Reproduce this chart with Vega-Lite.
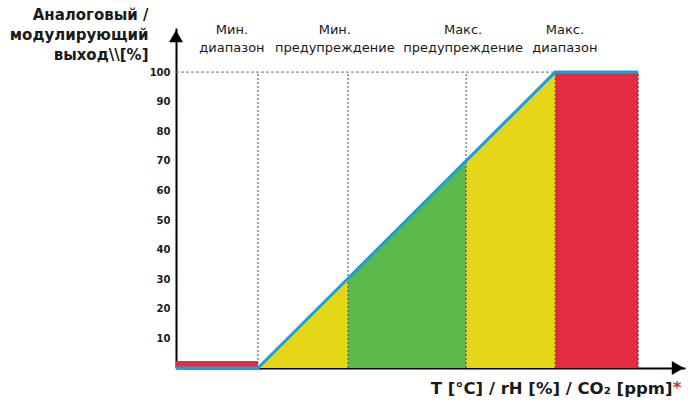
{
  "$schema": "https://vega.github.io/schema/vega-lite/v6.json",
  "width": 509,
  "height": 340,
  "autosize": {"type": "none"},
  "padding": {"left": 176, "top": 28, "right": 3, "bottom": 35},
  "background": "white",
  "config": {
    "view": {"stroke": null},
    "font": "DejaVu Sans",
    "axis": {"grid": false, "ticks": false, "tickSize": 0, "domainColor": "#000000", "domainWidth": 2, "labelOverlap": false}
  },
  "datasets": {
    "zones": [
      {"zone": "Диапазон", "seg": "min", "x": 0, "y": 2.4},
      {"zone": "Диапазон", "seg": "min", "x": 16.1, "y": 2.4},
      {"zone": "Предупреждение", "seg": "minw", "x": 16.1, "y": 0},
      {"zone": "Предупреждение", "seg": "minw", "x": 33.8, "y": 30.3},
      {"zone": "Норма", "seg": "norm", "x": 33.8, "y": 30.3},
      {"zone": "Норма", "seg": "norm", "x": 57.0, "y": 70},
      {"zone": "Предупреждение", "seg": "maxw", "x": 57.0, "y": 70},
      {"zone": "Предупреждение", "seg": "maxw", "x": 74.5, "y": 100},
      {"zone": "Диапазон", "seg": "max", "x": 74.5, "y": 100},
      {"zone": "Диапазон", "seg": "max", "x": 90.8, "y": 100}
    ],
    "output": [
      {"x": 0, "y": 0},
      {"x": 16.1, "y": 0},
      {"x": 74.5, "y": 100},
      {"x": 90.8, "y": 100}
    ],
    "bounds": [
      {"x": 16.1},
      {"x": 33.8},
      {"x": 57.0},
      {"x": 74.5},
      {"x": 90.8}
    ],
    "labels": [
      {"label": "Мин.\nдиапазон", "x": 11.0},
      {"label": "Мин.\nпредупреждение", "x": 31.2},
      {"label": "Макс.\nпредупреждение", "x": 56.4},
      {"label": "Макс.\nдиапазон", "x": 76.4}
    ]
  },
  "layer": [
    {
      "data": {"name": "zones"},
      "mark": {"type": "area", "opacity": 1},
      "encoding": {
        "x": {
          "field": "x", "type": "quantitative",
          "scale": {"domain": [0, 100], "nice": false, "zero": false},
          "axis": {
            "labels": false,
            "title": "T [°C] / rH [%] / CO₂ [ppm]",
            "titleX": 496, "titleY": 25,
            "titleAlign": "right", "titleAnchor": null, "titleBaseline": "alphabetic",
            "titleFontSize": 16.5, "titleFontWeight": "bold", "titleColor": "#1a1a1a"
          }
        },
        "y": {
          "field": "y", "type": "quantitative", "stack": null,
          "scale": {"domain": [0, 114.9], "nice": false},
          "axis": {
            "values": [10, 20, 30, 40, 50, 60, 70, 80, 90, 100],
            "tickCount": 20,
            "labelOverlap": false,
            "labelFontSize": 10, "labelFontWeight": "bold", "labelColor": "#1a1a1a", "labelPadding": 6,
            "title": ["Аналоговый /", "модулирующий", "выход\\\\[%]"],
            "titleAngle": 0, "titleAlign": "right", "titleBaseline": "top",
            "titleX": -28, "titleY": -21, "titleLineHeight": 20,
            "titleFontSize": 15, "titleFontWeight": "bold", "titleColor": "#1a1a1a"
          }
        },
        "color": {
          "field": "zone", "type": "nominal",
          "scale": {"domain": ["Диапазон", "Предупреждение", "Норма"], "range": ["#E42B43", "#E5D718", "#5BB94B"]},
          "legend": null
        },
        "detail": {"field": "seg"}
      }
    },
    {
      "data": {"name": "bounds"},
      "mark": {"type": "rule", "color": "#4a4a4a", "strokeDash": [2, 2], "strokeWidth": 1},
      "encoding": {
        "x": {"field": "x", "type": "quantitative"},
        "y": {"datum": 0},
        "y2": {"datum": 100}
      }
    },
    {
      "data": {"values": [{}]},
      "mark": {"type": "rule", "color": "#7d7632", "strokeDash": [3, 2], "strokeWidth": 1},
      "encoding": {
        "x": {"datum": 0},
        "x2": {"datum": 74.5},
        "y": {"datum": 100}
      }
    },
    {
      "data": {"name": "output"},
      "mark": {"type": "line", "color": "#1BA1DA", "strokeWidth": 3},
      "encoding": {
        "x": {"field": "x", "type": "quantitative"},
        "y": {"field": "y", "type": "quantitative"}
      }
    },
    {
      "data": {"values": [{}]},
      "mark": {"type": "point", "shape": "triangle-up", "size": 196, "filled": true, "color": "#000000", "opacity": 1},
      "encoding": {
        "x": {"datum": 0},
        "y": {"datum": 112.1}
      }
    },
    {
      "data": {"values": [{}]},
      "mark": {"type": "point", "shape": "triangle-right", "size": 196, "filled": true, "color": "#000000", "opacity": 1},
      "encoding": {
        "x": {"datum": 98.6},
        "y": {"datum": 0}
      }
    },
    {
      "data": {"name": "labels"},
      "mark": {"type": "text", "lineBreak": "\n", "align": "center", "baseline": "alphabetic", "fontSize": 13, "lineHeight": 18, "color": "#1a1a1a"},
      "encoding": {
        "x": {"field": "x", "type": "quantitative"},
        "y": {"datum": 112.8},
        "text": {"field": "label"}
      }
    },
    {
      "data": {"values": [{}]},
      "mark": {"type": "text", "text": "*", "align": "left", "baseline": "alphabetic", "dy": 25, "fontSize": 16.5, "fontWeight": "bold", "color": "#E3282F"},
      "encoding": {
        "x": {"datum": 97.6},
        "y": {"datum": 0}
      }
    }
  ]
}
